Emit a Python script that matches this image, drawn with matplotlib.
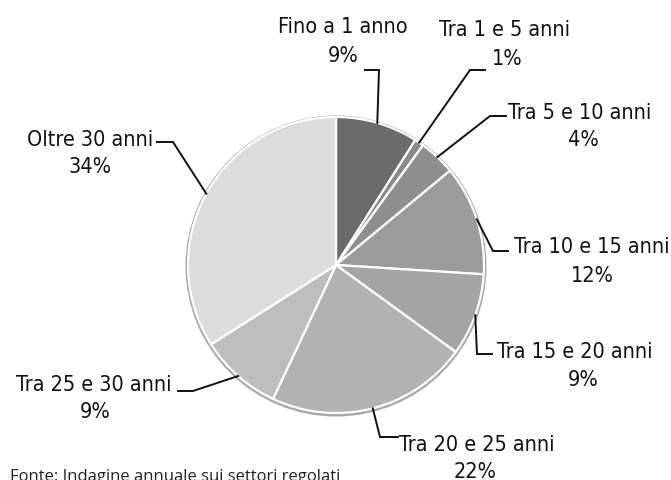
import numpy as np
import matplotlib
matplotlib.use("Agg")
import matplotlib.pyplot as plt
from matplotlib.patches import Circle
from matplotlib import font_manager as fm

categories = ["Fino a 1 anno", "Tra 1 e 5 anni", "Tra 5 e 10 anni", "Tra 10 e 15 anni",
              "Tra 15 e 20 anni", "Tra 20 e 25 anni", "Tra 25 e 30 anni", "Oltre 30 anni"]
shares = [9, 1, 4, 12, 9, 22, 9, 34]
colors = ["#6b6b6b", "#8a8a8a", "#8f8f8f", "#9b9b9b", "#a4a4a4", "#b2b2b2", "#bdbdbd", "#dcdcdc"]
footnote = "Fonte: Indagine annuale sui settori regolati"

W, H = 671, 481
fig = plt.figure(figsize=(W / 100, H / 100), dpi=100)
ax = fig.add_axes([0, 0, 1, 1])

def P(x, y):
    return (x, H - y)

cx, cy = P(336, 266)
R = 148

ax.add_patch(Circle((cx, cy - 1), R + 2.5, facecolor="#a8a8a8", edgecolor="none", zorder=1))
wedges, _ = ax.pie(shares, colors=colors, startangle=90, counterclock=False,
                   center=(cx, cy), radius=R, frame=True,
                   wedgeprops=dict(edgecolor="white", linewidth=1.6, zorder=2))
ax.set_xlim(0, W)
ax.set_ylim(0, H)
ax.set_aspect("equal")
ax.axis("off")

# pick a condensed font if available
label_prop = fm.FontProperties(family="DejaVu Sans", stretch="condensed", size=15.5)
fpath = fm.findfont(label_prop)
if "Condensed" not in fpath:
    label_prop = fm.FontProperties(family="Roboto", size=14.5)

# (label text center line1, line2 center, leader elbow points (pixel coords))
layout = {
    "Fino a 1 anno": ((343, 27), (343, 56), [(379, 71), (365, 71)]),
    "Tra 1 e 5 anni": ((505, 30), (507, 59), [(470, 71), (485, 71)]),
    "Tra 5 e 10 anni": ((580, 113), (583, 140), [(490, 117), (506, 117)]),
    "Tra 10 e 15 anni": ((592, 247), (592, 276), [(493, 252), (508, 252)]),
    "Tra 15 e 20 anni": ((575, 352), (583, 380), [(477, 355), (492, 355)]),
    "Tra 20 e 25 anni": ((477, 445), (475, 472), [(380, 438), (398, 438)]),
    "Tra 25 e 30 anni": ((94, 385), (95, 412), [(193, 392), (178, 392)]),
    "Oltre 30 anni": ((90, 140), (90, 167), [(173, 143), (157, 143)]),
}

for w, cat, val in zip(wedges, categories, shares):
    mid = np.deg2rad((w.theta1 + w.theta2) / 2)
    ax_ = cx + R * np.cos(mid)
    ay_ = cy + R * np.sin(mid)
    (t1, t2, elbow) = layout[cat]
    xs = [ax_] + [P(*e)[0] for e in elbow]
    ys = [ay_] + [P(*e)[1] for e in elbow]
    ax.plot(xs, ys, color="#111111", lw=1.4, zorder=3, solid_joinstyle="miter")
    ax.text(*P(*t1), cat, ha="center", va="center", fontproperties=label_prop, color="#111111")
    ax.text(*P(*t2), f"{val}%", ha="center", va="center", fontproperties=label_prop, color="#111111")

ax.text(*P(10, 469), footnote, ha="left", va="top", fontsize=12,
        family=["Open Sans", "DejaVu Sans"], color="#222222")

fig.savefig("out.png", dpi=100)
